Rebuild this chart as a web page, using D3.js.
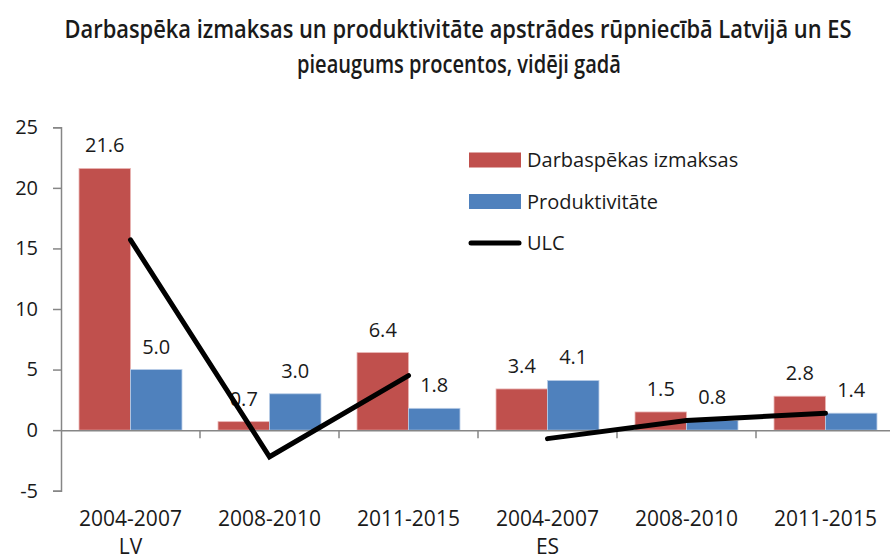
<!DOCTYPE html>
<html lang="lv">
<head>
<meta charset="UTF-8">
<script src="https://cdn.jsdelivr.net/npm/d3@7"></script>
<style>
  body { margin: 0; background: #fff; font-family: "Open Sans", "Noto Sans", sans-serif; }
  svg text { fill: #1a1a1a; }
</style>
</head>
<body>
<script>
// data
var periods = ["2004-2007", "2008-2010", "2011-2015", "2004-2007", "2008-2010", "2011-2015"];
var regions = ["LV", "ES"];          // one label under the first period of each group
var laborCost = [21.6, 0.7, 6.4, 3.4, 1.5, 2.8];
var productivity = [5.0, 3.0, 1.8, 4.1, 0.8, 1.4];
var ulc = [15.7, -2.2, 4.5, -0.7, 0.8, 1.4];
var yTicks = [-5, 0, 5, 10, 15, 20, 25];
var seriesNames = ["Darbaspēkas izmaksas", "Produktivitāte", "ULC"];
var title1 = "Darbaspēka izmaksas un produktivitāte apstrādes rūpniecībā Latvijā un ES";
var title2 = "pieaugums procentos, vidēji gadā";

var red = "#C0504D", blue = "#4F81BD", axisGray = "#868686";

var width = 890, height = 559;
var svg = d3.select("body").append("svg")
    .attr("width", width)
    .attr("height", height);

var idx = d3.range(periods.length);

var x = d3.scaleBand()
    .domain(idx)
    .range([61, 895]);

var xs = d3.scaleBand()
    .domain(["cost", "prod"])
    .range([0, x.bandwidth()])
    .paddingInner(0)
    .paddingOuter(0.35);

var y = d3.scaleLinear()
    .domain([-5, 25])
    .range([490.7, 127.3]);

// title: tall, narrow letters -> smaller font stretched vertically
var titleStyle = function(t) {
    t.attr("text-anchor", "middle")
     .attr("lengthAdjust", "spacingAndGlyphs")
     .style("font-family", "'Open Sans', sans-serif")
     .style("font-size", "20px")
     .style("font-weight", "600");
};
svg.append("text")
    .attr("transform", "translate(458,38) scale(1,1.25)")
    .attr("textLength", 787)
    .call(titleStyle)
    .text(title1);
svg.append("text")
    .attr("transform", "translate(459,73) scale(1,1.25)")
    .attr("textLength", 324)
    .call(titleStyle)
    .text(title2);

// y axis
var yAxis = d3.axisLeft(y).tickValues(yTicks).tickSize(8).tickPadding(15)
    .tickFormat(function(d) { return String(d); });
var gy = svg.append("g")
    .attr("transform", "translate(61,0)")
    .call(yAxis);
gy.select(".domain").attr("stroke", axisGray).attr("stroke-width", 1.5);
gy.selectAll(".tick line").attr("stroke", axisGray).attr("stroke-width", 1.5);
gy.selectAll(".tick text")
    .style("font-size", "20px")
    .style("font-family", "'Open Sans', sans-serif")
    .attr("fill", "#1a1a1a");

// bars
var groups = svg.append("g").selectAll("g")
    .data(idx)
    .enter().append("g")
    .attr("transform", function(i) { return "translate(" + x(i) + ",0)"; });

groups.append("rect")
    .attr("x", xs("cost"))
    .attr("width", xs.bandwidth())
    .attr("y", function(i) { return y(Math.max(0, laborCost[i])); })
    .attr("height", function(i) { return Math.abs(y(laborCost[i]) - y(0)); })
    .attr("fill", red)
    .attr("stroke", "#e9b5b4").attr("stroke-width", 0.8);

groups.append("rect")
    .attr("x", xs("prod"))
    .attr("width", xs.bandwidth())
    .attr("y", function(i) { return y(Math.max(0, productivity[i])); })
    .attr("height", function(i) { return Math.abs(y(productivity[i]) - y(0)); })
    .attr("fill", blue)
    .attr("stroke", "#b9cde6").attr("stroke-width", 0.8);

// x axis at zero
var xAxis = d3.axisBottom(x).tickSize(0).tickFormat("");
var gx = svg.append("g")
    .attr("transform", "translate(0," + y(0) + ")")
    .call(xAxis);
gx.select(".domain").attr("stroke", axisGray).attr("stroke-width", 1.5);
gx.selectAll(".tick").remove();
gx.selectAll(".sep")
    .data(idx.slice(1))
    .enter().append("line")
    .attr("x1", function(i) { return x(i); })
    .attr("x2", function(i) { return x(i); })
    .attr("y1", 0).attr("y2", 8)
    .attr("stroke", axisGray).attr("stroke-width", 1.5);

// value labels
groups.append("text")
    .attr("x", xs("cost") + xs.bandwidth() / 2)
    .attr("y", function(i) { return y(laborCost[i]) - 16; })
    .attr("text-anchor", "middle")
    .style("font-size", "20px")
    .text(function(i) { return laborCost[i].toFixed(1); });

groups.append("text")
    .attr("x", xs("prod") + xs.bandwidth() / 2)
    .attr("y", function(i) { return y(productivity[i]) - 16; })
    .attr("text-anchor", "middle")
    .style("font-size", "20px")
    .text(function(i) { return productivity[i].toFixed(1); });

// ULC line, broken between LV and ES
var line = d3.line()
    .x(function(i) { return x(i) + x.bandwidth() / 2; })
    .y(function(i) { return y(ulc[i]); });

[[0, 1, 2], [3, 4, 5]].forEach(function(seg) {
    svg.append("path")
        .attr("d", line(seg))
        .attr("fill", "none")
        .attr("stroke", "#000")
        .attr("stroke-width", 5)
        .attr("stroke-linecap", "round")
        .attr("stroke-linejoin", "miter");
});

// category labels
svg.append("g").selectAll("text")
    .data(idx)
    .enter().append("text")
    .attr("x", function(i) { return x(i) + x.bandwidth() / 2; })
    .attr("y", 526)
    .attr("text-anchor", "middle")
    .style("font-size", "21px")
    .text(function(i) { return periods[i]; });

svg.append("g").selectAll("text")
    .data(regions)
    .enter().append("text")
    .attr("x", function(d, k) { return x(k * 3) + x.bandwidth() / 2; })
    .attr("y", 554)
    .attr("text-anchor", "middle")
    .style("font-size", "21px")
    .text(function(d) { return d; });

// legend
var legend = svg.append("g").attr("transform", "translate(469,160)");
var legendColors = [red, blue, "#000"];
seriesNames.forEach(function(name, k) {
    var row = legend.append("g").attr("transform", "translate(0," + (k * 41.5) + ")");
    if (k < 2) {
        row.append("rect")
            .attr("x", 0).attr("y", -7.5)
            .attr("width", 52).attr("height", 15)
            .attr("fill", legendColors[k]);
    } else {
        row.append("line")
            .attr("x1", 2).attr("x2", 50)
            .attr("y1", 0).attr("y2", 0)
            .attr("stroke", "#000").attr("stroke-width", 5)
            .attr("stroke-linecap", "round");
    }
    row.append("text")
        .attr("x", 58).attr("y", 0)
        .attr("dy", "0.35em")
        .style("font-size", "20px")
        .text(name);
});
</script>
</body>
</html>
